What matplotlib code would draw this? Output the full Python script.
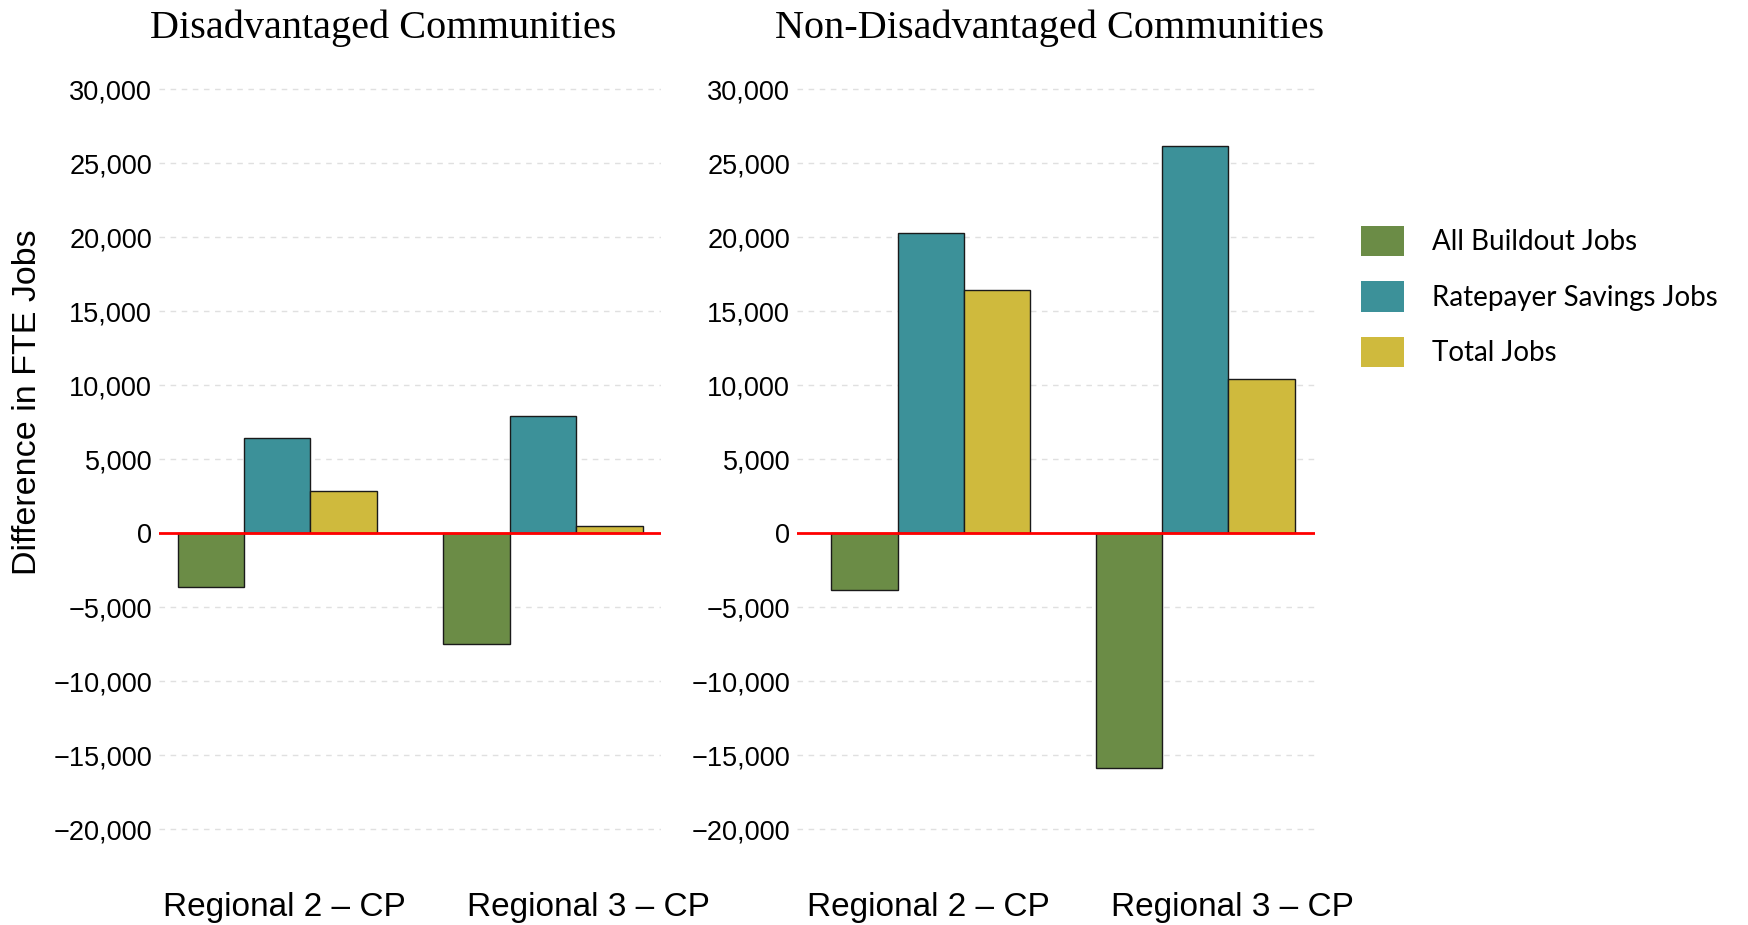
import numpy as np
import matplotlib
matplotlib.use("Agg")
import matplotlib.pyplot as plt
from matplotlib.patches import Patch

# Data
scenarios = ["Regional 2 \u2013 CP", "Regional 3 \u2013 CP"]
series = ["All Buildout Jobs", "Ratepayer Savings Jobs", "Total Jobs"]
colors = ["#6b8c46", "#3c9199", "#cfba3d"]

dac_buildout = [-3630, -7470]
dac_ratepayer = [6410, 7940]
dac_total = [2830, 520]

non_dac_buildout = [-3840, -15850]
non_dac_ratepayer = [20300, 26150]
non_dac_total = [16450, 10400]

yticks = [30000, 25000, 20000, 15000, 10000, 5000, 0, -5000, -10000, -15000, -20000]

plt.rcParams['font.family'] = ['Liberation Sans', 'DejaVu Sans']

fig = plt.figure(figsize=(17.48, 9.25), dpi=100)
fig.patch.set_facecolor("white")

ax_left = fig.add_axes([0.091, 0.0714, 0.2872, 0.8642])
ax_right = fig.add_axes([0.456, 0.0714, 0.2963, 0.8642])

bar_w = 0.25
x = np.arange(len(scenarios))


def draw_panel(ax, buildout, ratepayer, total, xlim, label_pos):
    vals = [buildout, ratepayer, total]
    for i, v in enumerate(vals):
        ax.bar(x + (i - 1) * bar_w, v, width=bar_w, color=colors[i],
               edgecolor="#1a1a1a", linewidth=1.0, zorder=3)
    for t in yticks:
        if t != 0:
            ax.axhline(t, color="#e0e0e0", linewidth=1.0, linestyle=(0, (4, 4)), zorder=1)
    ax.axhline(0, color="#ff0000", linewidth=2.0, zorder=4)
    ax.set_ylim(-22000, 32000)
    ax.set_xlim(*xlim)
    ax.set_yticks(yticks)
    ax.set_yticklabels([f"{t:,}".replace("-", "\u2212") for t in yticks], fontsize=19.5)
    # category labels sit slightly right of the group centres in the original
    ax.set_xticks(label_pos)
    ax.set_xticklabels(scenarios, fontsize=24)
    ax.tick_params(axis="x", length=0, pad=24)
    ax.tick_params(axis="y", length=0, pad=5)
    for s in ax.spines.values():
        s.set_visible(False)


draw_panel(ax_left, dac_buildout, dac_ratepayer, dac_total, (-0.445, 1.445), [0.025, 1.172])
draw_panel(ax_right, non_dac_buildout, non_dac_ratepayer, non_dac_total, (-0.505, 1.452), [-0.008, 1.139])

fig.text(383 / 1748, 1 - 28 / 925, "Disadvantaged Communities", ha="center", va="center",
         fontsize=29, family=["Liberation Serif", "DejaVu Serif"])
fig.text(1050 / 1748, 1 - 28 / 925, "Non-Disadvantaged Communities", ha="center", va="center",
         fontsize=29, family=["Liberation Serif", "DejaVu Serif"])

fig.text(28 / 1748, 1 - 402 / 925, "Difference in FTE Jobs", rotation=90,
         ha="center", va="center", fontsize=24.5)

handles = [Patch(facecolor=c, edgecolor="none") for c in colors]
fig.legend(handles, series, loc="upper left", bbox_to_anchor=(1361 / 1748, 1 - 226 / 925),
           frameon=False, borderpad=0, borderaxespad=0, handlelength=1.55, handleheight=1.3,
           handletextpad=1.0, labelspacing=0.9, prop={"family": ["Lato", "DejaVu Sans"], "size": 20})

fig.savefig("out.png", dpi=100, facecolor="white")
